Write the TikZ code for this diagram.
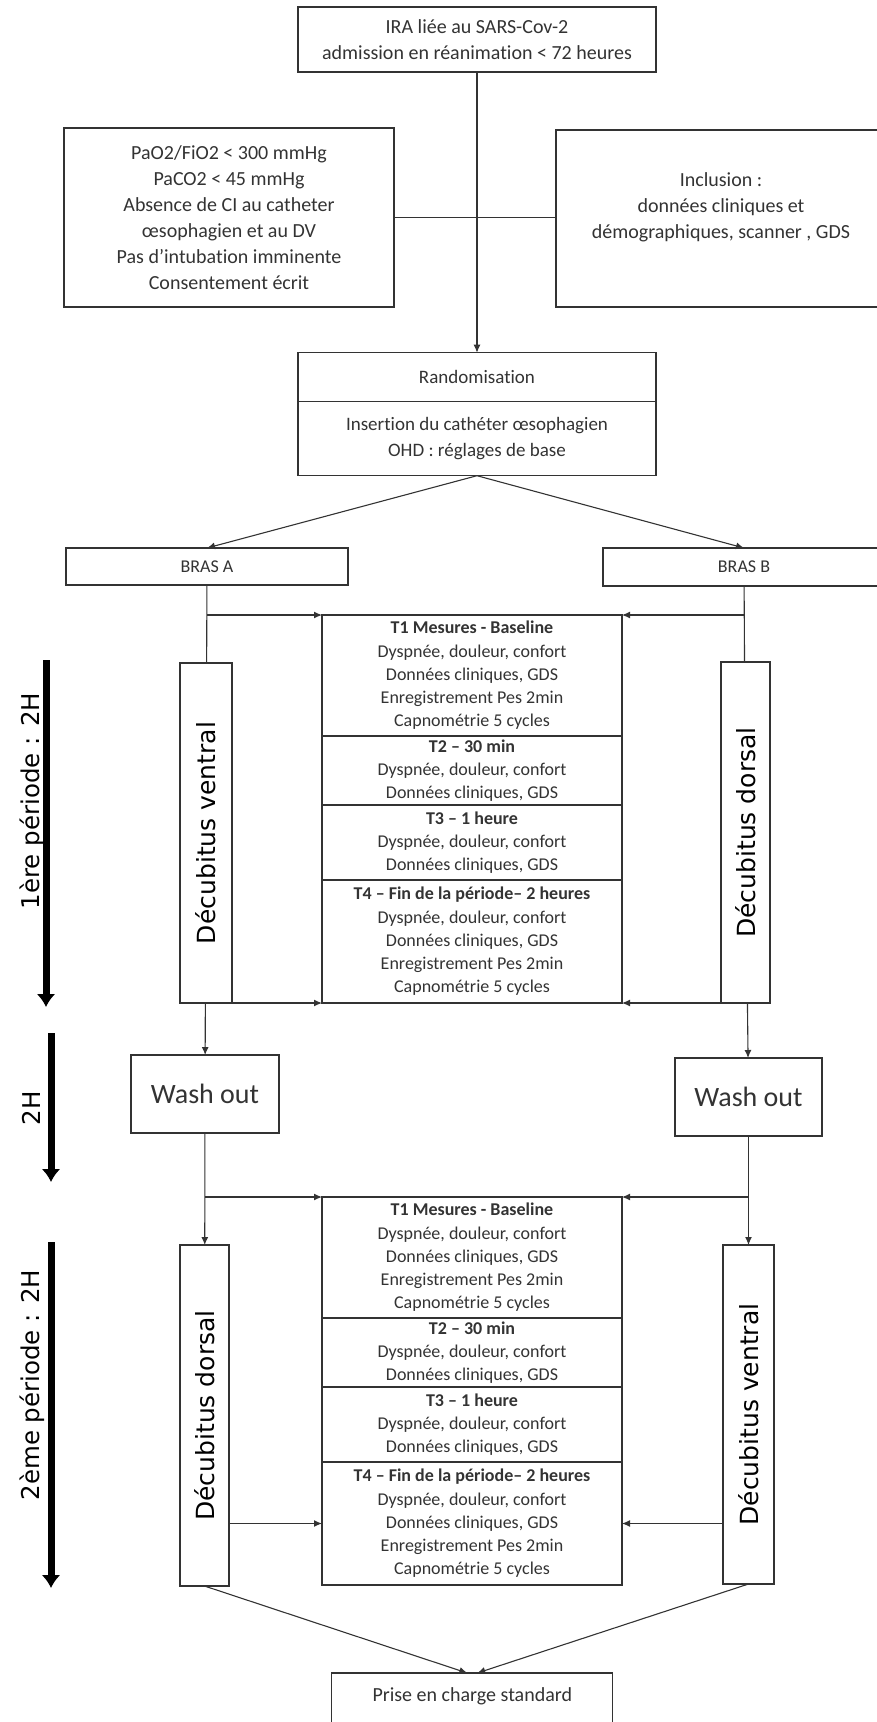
\documentclass[tikz,border=0pt]{standalone}
\usepackage{fontspec}
\setmainfont{Carlito}[Ligatures=NoCommon]
\newfontfamily\rotfont{DejaVu Sans}
\usetikzlibrary{positioning,arrows.meta}

\begin{document}
\begin{tikzpicture}[x=1pt,y=-1pt,>={Latex[length=8pt,width=7pt]},
	box/.style={draw=black!80, line width=1.3pt, align=center, inner sep=0pt, outer sep=0pt, text=black!80},
	tbox/.style={box, minimum width=300pt, font=\fontsize{18}{23.3}\selectfont},
	decub/.style={box, text=black, font=\rotfont\fontsize{25}{30}\selectfont},
	lien/.style={draw=black!80, line width=1.1pt},
	periode/.style={line width=7pt, -{Latex[length=13pt,width=19pt]}}]
			\useasboundingbox (0,0) rectangle (877,1722);
			\clip (0,0) rectangle (877,1722);
			
			\node[box, minimum width=358pt, minimum height=65pt, font=\fontsize{20}{26}\selectfont] (IRA) at (477,39.5) {IRA liée au SARS-Cov-2\\admission en réanimation < 72 heures};
			\node[box, minimum width=330pt, minimum height=179pt, font=\fontsize{20}{26}\selectfont] (crit) at (229,217.5) {PaO2/FiO2 < 300 mmHg\\PaCO2 < 45 mmHg\\Absence de CI au catheter\\œsophagien et au DV\\Pas d’intubation imminente\\Consentement écrit};
			\node[box, minimum width=330pt, minimum height=177pt, font=\fontsize{20}{26}\selectfont] (incl) at (721,218.5) {Inclusion :\\données cliniques et\\démographiques, scanner , GDS\\ \mbox{}};
			\node[box, minimum width=358pt, minimum height=49pt, font=\fontsize{19}{25}\selectfont] (rand) at (477,377.2) {Randomisation};
			\node[box, below=0pt of rand, minimum width=358pt, minimum height=74pt, font=\fontsize{19}{25.5}\selectfont] (ins) {Insertion du cathéter œsophagien\\OHD : réglages de base};
			\node[box, minimum width=282pt, minimum height=37pt, font=\fontsize{18}{22}\selectfont] (brasA) at (207,566.5) {BRAS A};
			\node[box, minimum width=282pt, minimum height=38pt, font=\fontsize{18}{22}\selectfont] (brasB) at (744,567) {BRAS B};
			
			% deux periodes de mesures
			\foreach \p/\y in {a/615,b/1197}{
				\node[tbox, anchor=north, minimum height=121pt] (t1\p) at (472,\y) {\textbf{T1 Mesures - Baseline}\\Dyspnée, douleur, confort\\Données cliniques, GDS\\Enregistrement Pes 2min\\Capnométrie 5 cycles};
				\node[tbox, below=0pt of t1\p, minimum height=69pt] (t2\p) {\textbf{T2 – 30 min}\\Dyspnée, douleur, confort\\Données cliniques, GDS};
				\node[tbox, below=0pt of t2\p, minimum height=75pt] (t3\p) {\textbf{T3 – 1 heure}\\Dyspnée, douleur, confort\\Données cliniques, GDS};
				\node[tbox, below=0pt of t3\p, minimum height=123pt] (t4\p) {\textbf{T4 – Fin de la période– 2 heures}\\Dyspnée, douleur, confort\\Données cliniques, GDS\\Enregistrement Pes 2min\\Capnométrie 5 cycles};
			}
			
			\node[decub, minimum width=52pt, minimum height=340pt] (ventA) at (206,833) {\rotatebox{90}{Décubitus ventral}};
			\node[decub, minimum width=49pt, minimum height=341pt] (dorsA) at (745.5,832.5) {\rotatebox{90}{Décubitus dorsal}};
			\node[box, minimum width=148pt, minimum height=78pt, font=\fontsize{28}{32}\selectfont] (washA) at (205,1094) {Wash out};
			\node[box, minimum width=147pt, minimum height=78pt, font=\fontsize{28}{32}\selectfont] (washB) at (748.5,1097) {Wash out};
			\node[decub, minimum width=49pt, minimum height=341pt] (dorsB) at (204.5,1415.5) {\rotatebox{90}{Décubitus dorsal}};
			\node[decub, minimum width=51pt, minimum height=339pt] (ventB) at (748.5,1414.5) {\rotatebox{90}{Décubitus ventral}};
			\node[box, anchor=north, minimum width=281pt, inner ysep=13pt, text height=15pt, text depth=30pt, font=\fontsize{20}{24}\selectfont] (prise) at (472.3,1673) {Prise en charge standard};
			
			\draw[lien,->] (IRA) -- (rand);
			\draw[lien] (crit.east) -- (crit.east -| incl.west);
			\draw[lien,->] (ins.south) -- (brasA.north);
			\draw[lien,->] (ins.south) -- (brasB.north);
			\draw[lien] (brasA) -- (ventA);
			\draw[lien] (brasB) -- (dorsA);
			\draw[lien,->] (brasA |- t1a.north) -- (t1a.north west);
			\draw[lien,->] (brasB |- t1a.north) -- (t1a.north east);
			\draw[lien,->] (ventA.south east) -- (t4a.south west);
			\draw[lien,->] (dorsA.south west) -- (t4a.south east);
			\draw[lien,->] (ventA) -- (washA);
			\draw[lien,->] (dorsA) -- (washB);
			\draw[lien,->] (washA) -- (dorsB);
			\draw[lien,->] (washB) -- (ventB);
			\draw[lien,->] (washA |- t1b.north) -- (t1b.north west);
			\draw[lien,->] (washB |- t1b.north) -- (t1b.north east);
			\draw[lien,->] (dorsB.east |- t4b.west) -- (t4b.west);
			\draw[lien,->] (ventB.west |- t4b.east) -- (t4b.east);
			\draw[lien,->] (dorsB.south) -- ([xshift=-5pt]prise.north);
			\draw[lien,->] (ventB.south) -- ([xshift=5pt]prise.north);
			
			% fleches de duree
			\coordinate (p1h) at (46,660);
			\coordinate (p1b) at (46,1007);
			\coordinate (w2h) at (51,1033);
			\coordinate (w2b) at (51,1182);
			\coordinate (p2h) at (51,1242);
			\coordinate (p2b) at (51,1588);
			\draw[periode] (p1h) -- (p1b);
			\draw[periode] (w2h) -- (w2b);
			\draw[periode] (p2h) -- (p2b);
			\node[rotate=90, inner sep=0pt, font=\rotfont\fontsize{24.5}{29}\selectfont] (per1) at (32,801) {1ère période : 2H};
			\node[rotate=90, inner sep=0pt, font=\rotfont\fontsize{24.5}{29}\selectfont] (duree) at (31,1108) {2H};
			\node[rotate=90, inner sep=0pt, font=\rotfont\fontsize{24.5}{29}\selectfont] (per2) at (32,1385) {2ème période : 2H};
			\end{tikzpicture}
\end{document}
